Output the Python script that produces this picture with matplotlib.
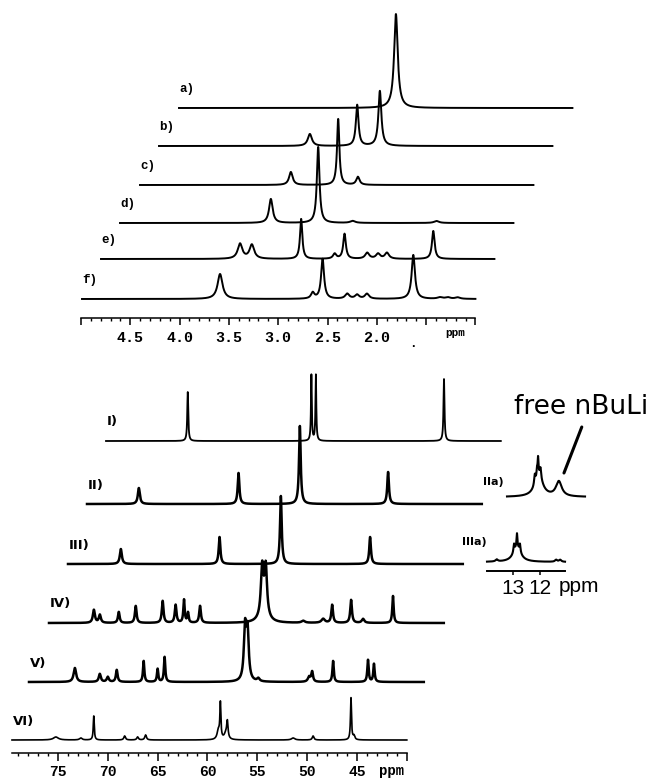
import numpy as np
import matplotlib
matplotlib.use("Agg")
import matplotlib.pyplot as plt
from matplotlib.ticker import FixedLocator, MultipleLocator, FuncFormatter

W, H = 654, 781

# ---------------- 1H spectra: (ppm, height, half-width) ----------------
h1_labels = ["a)", "b)", "c)", "d)", "e)", "f)"]
peaks_a = [(2.80, 94, 0.022)]
peaks_b = [(3.47, 12, 0.025), (2.99, 41, 0.016), (2.76, 55, 0.018)]
peaks_c = [(3.47, 13, 0.022), (2.99, 66, 0.014), (2.79, 8, 0.020)]
peaks_d = [(3.47, 24, 0.022), (2.99, 76, 0.016), (2.64, 2, 0.03), (1.79, 2, 0.03)]
peaks_e = [(3.59, 15, 0.028), (3.47, 14, 0.028), (2.97, 40, 0.014), (2.63, 5, 0.02),
           (2.53, 25, 0.016), (2.30, 6, 0.025), (2.19, 5, 0.025), (2.10, 6, 0.025),
           (1.63, 28, 0.016)]
peaks_f = [(3.60, 25, 0.030), (2.66, 6, 0.02), (2.56, 40, 0.018), (2.31, 5, 0.025),
           (2.21, 4, 0.025), (2.11, 5, 0.025), (1.64, 44, 0.020), (1.37, 1.5, 0.03),
           (1.29, 1.5, 0.03), (1.19, 1.5, 0.03)]
h1_peaks = [peaks_a, peaks_b, peaks_c, peaks_d, peaks_e, peaks_f]
h1_ticks = [5.0, 4.5, 4.0, 3.5, 3.0, 2.5, 2.0, 1.5, 1.0]
h1_ticklabels = ["", "4.5", "4.0", "3.5", "3.0", "2.5", "2.0", "", ""]

# ---------------- 13C spectra: (ppm, height, half-width) ----------------
c13_labels = ["I)", "II)", "III)", "IV)", "V)", "VI)"]
peaks_I = [(71.4, 49, 0.06), (59.0, 66, 0.05), (58.55, 66, 0.05), (45.7, 62, 0.06)]
peaks_II = [(74.4, 16, 0.12), (64.4, 31, 0.10), (58.25, 78, 0.10), (49.4, 32, 0.10)]
peaks_III = [(74.3, 15, 0.12), (64.4, 27, 0.10), (58.25, 68, 0.10), (49.3, 27, 0.10)]
peaks_IV = [(75.1, 13, 0.12), (74.5, 8, 0.12), (72.6, 11, 0.10), (70.9, 17, 0.10),
            (68.2, 22, 0.10), (66.9, 18, 0.10), (66.06, 23, 0.08), (65.66, 10, 0.08),
            (64.45, 17, 0.10), (58.22, 48, 0.15), (57.86, 48, 0.15), (58.05, 8, 0.5),
            (54.1, 2, 0.2), (52.1, 4, 0.2), (51.2, 18, 0.10), (49.3, 23, 0.10),
            (48.1, 4, 0.15), (45.1, 27, 0.08)]
peaks_V = [(75.0, 14, 0.15), (72.5, 8, 0.12), (71.7, 5, 0.12), (70.8, 12, 0.10),
           (68.1, 21, 0.08), (66.7, 13, 0.08), (66.0, 25, 0.08), (57.93, 52, 0.14),
           (57.68, 48, 0.14), (56.6, 3, 0.15), (51.5, 5, 0.15), (51.2, 10, 0.10),
           (49.1, 21, 0.08), (45.6, 22, 0.08), (45.0, 18, 0.08)]
peaks_VI = [(75.2, 3, 0.3), (72.7, 2, 0.15), (71.4, 24, 0.06), (68.3, 4, 0.10),
            (67.0, 3, 0.10), (66.2, 5, 0.10), (58.9, 9, 0.15), (58.7, 35, 0.06),
            (58.15, 6, 0.2), (58.0, 16, 0.08), (51.4, 2, 0.2), (49.4, 4, 0.10),
            (45.6, 42, 0.06), (45.3, 4, 0.10)]
c13_peaks = [peaks_I, peaks_II, peaks_III, peaks_IV, peaks_V, peaks_VI]
c13_ticks = [75, 70, 65, 60, 55, 50, 45, 40]
c13_ticklabels = ["75", "70", "65", "60", "55", "50", "45", ""]

# ---------------- CH2Li region insets ----------------
inset_labels = ["IIa)", "IIIa)"]
peaks_IIa = [(12.78, 20, 0.18), (12.93, 10, 0.03), (12.85, 8, 0.02), (12.81, 18, 0.02),
             (12.72, 10, 0.03), (12.04, 15, 0.13)]
peaks_IIIa = [(12.85, 14, 0.17), (12.96, 8, 0.025), (12.85, 14, 0.02), (12.74, 8, 0.025),
              (13.6, 2, 0.05), (11.4, 2, 0.05), (11.25, 2, 0.05)]
inset_ticks = [13, 12]
inset_ticklabels = ["13", "12"]

MONO = "Liberation Mono"
fig = plt.figure(figsize=(W / 100, H / 100), dpi=100)


def place(left_px, base_px, width_px, lo, hi):
    """Axes whose y=0 sits at pixel row base_px (from top) and y units are pixels."""
    ax = fig.add_axes([left_px / W, (H - base_px + lo) / H, width_px / W, (hi - lo) / H])
    ax.set_ylim(lo, hi)
    ax.patch.set_visible(False)
    return ax


def spectrum(grid, peaks):
    y = np.zeros_like(grid)
    for p, h, g in peaks:
        y += h * g * g / ((grid - p) ** 2 + g * g)
    return y


def trace(ax, lo_ppm, hi_ppm, peaks, lw, n):
    grid = np.linspace(lo_ppm, hi_ppm, n)
    ax.plot(grid, spectrum(grid, peaks), color="black", lw=lw, clip_on=False,
            solid_joinstyle="round")
    ax.axis("off")


def style_axis(ax, ticks, labels, minor, font, size, pad, major_len, minor_len):
    for s in ("top", "left", "right"):
        ax.spines[s].set_visible(False)
    ax.spines["bottom"].set_linewidth(1.1)
    ax.set_yticks([])
    ax.xaxis.set_major_locator(FixedLocator(ticks))
    ax.xaxis.set_major_formatter(FuncFormatter(lambda v, i: labels[i] if i < len(labels) else ""))
    if minor:
        ax.xaxis.set_minor_locator(MultipleLocator(minor))
    ax.tick_params(axis="x", which="major", direction="out", length=major_len, width=1.1,
                   pad=pad, labelsize=size)
    ax.tick_params(axis="x", which="minor", direction="out", length=minor_len, width=1.0)
    for t in ax.get_xticklabels():
        t.set_fontfamily(font)
        t.set_fontweight("bold")


# ---------------- upper panel (1H) ----------------
h1_px_per_ppm = 98.6
h1_left = [179, 159, 140, 120, 101, 82]
h1_base = [108, 146, 185, 223, 259, 299]
for lab, pk, x0, yb in zip(h1_labels, h1_peaks, h1_left, h1_base):
    ax = place(x0, yb, 4.0 * h1_px_per_ppm, -6, 100)
    ax.set_xlim(5.0, 1.0)
    trace(ax, 5.0, 1.01, pk, 1.4, 5000)
    ax.text(5.0, 19, lab, fontfamily=MONO, fontweight="bold", fontsize=9,
            ha="left", va="center")

ax_h1 = place(81, 318, 4.0 * h1_px_per_ppm, 0, 2)
ax_h1.set_xlim(5.0, 1.0)
style_axis(ax_h1, h1_ticks, h1_ticklabels, 0.1, MONO, 10.8, 4.0, 5, 2.2)
fig.text(455 / W, 1 - 333 / H, "ppm", fontfamily=MONO, fontweight="bold", fontsize=8,
         ha="center", va="center")
fig.text(413 / W, 1 - 344 / H, ".", fontfamily=MONO, fontweight="bold", fontsize=9,
         ha="center", va="center")

# ---------------- lower panel (13C) ----------------
c13_px_per_ppm = 9.97
c13_left = [106, 87, 68, 49, 29, 12]
c13_base = [441, 504, 564, 623, 682, 740]
c13_lw = [1.3, 1.8, 1.8, 1.8, 1.8, 1.2]
for lab, pk, x0, yb, lw in zip(c13_labels, c13_peaks, c13_left, c13_base, c13_lw):
    ax = place(x0, yb, 39.6 * c13_px_per_ppm, -6, 100)
    ax.set_xlim(79.6, 40.0)
    trace(ax, 79.6, 40.0, pk, lw, 9000)
    ax.text(79.5, 19, lab, fontfamily="DejaVu Sans", fontweight="bold", fontsize=9.5,
            ha="left", va="center")

ax_c13 = place(12, 753, 39.6 * c13_px_per_ppm, 0, 2)
ax_c13.set_xlim(79.6, 40.0)
style_axis(ax_c13, c13_ticks, c13_ticklabels, 1, MONO, 10.5, 3.0, 6, 2.5)
fig.text(392 / W, 1 - 771 / H, "ppm", fontfamily=MONO, fontweight="bold", fontsize=10,
         ha="center", va="center")

# ---------------- insets ----------------
ins_px_per_ppm = 27.0
ins_span = (13.96, 11.07)
ins_width = (ins_span[0] - ins_span[1]) * ins_px_per_ppm

ax_IIa = place(507, 497, ins_width, -6, 60)
ax_IIa.set_xlim(*ins_span)
trace(ax_IIa, ins_span[0], ins_span[1], peaks_IIa, 1.5, 3000)
fig.text(483 / W, 1 - 482 / H, inset_labels[0], fontfamily="DejaVu Sans",
         fontweight="bold", fontsize=8, ha="left", va="center")

ax_IIIa = place(487, 562, ins_width, -6, 60)
ax_IIIa.set_xlim(*ins_span)
trace(ax_IIIa, ins_span[0], ins_span[1], peaks_IIIa, 1.5, 3000)
fig.text(462 / W, 1 - 542 / H, inset_labels[1], fontfamily="DejaVu Sans",
         fontweight="bold", fontsize=8, ha="left", va="center")

ax_ins = place(487, 571, ins_width, 0, 2)
ax_ins.set_xlim(*ins_span)
style_axis(ax_ins, inset_ticks, inset_ticklabels, None, "Liberation Sans", 15, 2.5, 3, 0)
for t in ax_ins.get_xticklabels():
    t.set_fontweight("normal")
ax_ins.spines["bottom"].set_linewidth(1.4)
fig.text(579 / W, 1 - 586 / H, "ppm", fontfamily="Liberation Sans", fontsize=15,
         ha="center", va="center")

fig.text(514 / W, 1 - 407 / H, "free nBuLi", fontfamily="DejaVu Sans", fontsize=19,
         ha="left", va="center")
ax_IIa.annotate("", xy=(11.85, 24), xytext=(11.19, 70), xycoords="data",
                arrowprops=dict(arrowstyle="-", lw=2.2, color="black",
                                shrinkA=0, shrinkB=0),
                annotation_clip=False)

fig.savefig("out.png", dpi=100)
